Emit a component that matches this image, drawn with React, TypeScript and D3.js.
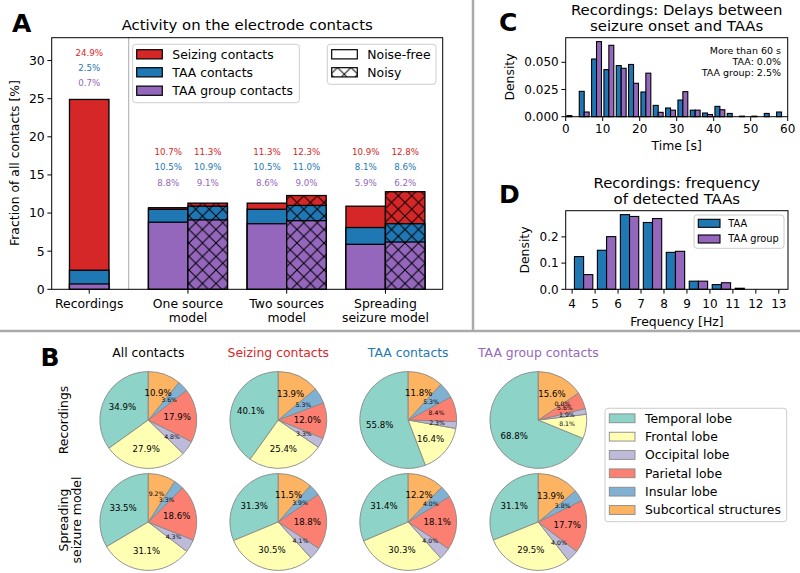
import React from 'react';
import * as d3 from 'd3';

const FONT = '"DejaVu Sans", sans-serif';
const RED = '#d62728';
const BLUE = '#1f77b4';
const PURPLE = '#9467bd';

// ---------- Panel A data ----------
const groupLabels = ['Recordings', 'One source\nmodel', 'Two sources\nmodel', 'Spreading\nseizure model'];
const seizingNoiseFree = [24.9, 10.7, 11.3, 10.9];
const taaNoiseFree = [2.5, 10.5, 10.5, 8.1];
const taaGroupNoiseFree = [0.7, 8.8, 8.6, 5.9];
const seizingNoisy = [NaN, 11.3, 12.3, 12.8];
const taaNoisy = [NaN, 10.9, 11.0, 8.6];
const taaGroupNoisy = [NaN, 9.1, 9.0, 6.2];
const yTicksA = [0, 5, 10, 15, 20, 25, 30];
const seriesNamesA = ['Seizing contacts', 'TAA contacts', 'TAA group contacts'];

// ---------- Panel C data (18 bins, 0-60 s) ----------
const delayTAA = [0.001, 0.0233, 0.053, 0.0433, 0.047, 0.048, 0.0227, 0.0104, 0.008, 0.0153, 0.006, 0.0034, 0.0095, 0.003, 0.0005, 0.0005, 0.003, 0.0043];
const delayTAAGroup = [0, 0.0043, 0.069, 0.0656, 0.0445, 0.0307, 0.040, 0.004, 0.006, 0.023, 0.006, 0.002, 0.0064, 0, 0, 0, 0, 0];
const delayTicks = [0, 10, 20, 30, 40, 50, 60];
const densityTicksC = [0, 0.025, 0.05];
const annotationC = ['More than 60 s', 'TAA: 0.0%', 'TAA group: 2.5%'];

// ---------- Panel D data (bins 4-13 Hz) ----------
const freqEdgesStart = [4, 5, 6, 7, 8, 9, 10, 11, 12];
const freqTAA = [0.125, 0.149, 0.285, 0.255, 0.141, 0.031, 0.018, 0.004, 0];
const freqTAAGroup = [0.056, 0.201, 0.278, 0.270, 0.145, 0.031, 0.025, 0, 0];
const freqTicks = [4, 5, 6, 7, 8, 9, 10, 11, 12, 13];
const densityTicksD = [0, 0.1, 0.2];

// ---------- Panel B data ----------
const regions = ['Temporal lobe', 'Frontal lobe', 'Occipital lobe', 'Parietal lobe', 'Insular lobe', 'Subcortical structures'];
const regionColors = ['#8dd3c7', '#ffffb3', '#bebada', '#fb8072', '#80b1d3', '#fdb462'];
const pieColumns = ['All contacts', 'Seizing contacts', 'TAA contacts', 'TAA group contacts'];
const pieColumnColors = ['#000000', RED, BLUE, PURPLE];
const pieRows = ['Recordings', 'Spreading\nseizure model'];
const recAll = [34.9, 27.9, 4.8, 17.9, 3.6, 10.9];
const recSeizing = [40.1, 25.4, 3.3, 12.0, 5.3, 13.9];
const recTAA = [55.8, 16.4, 2.3, 8.4, 5.3, 11.8];
const recTAAGroup = [68.8, 8.1, 1.9, 5.6, 0.0, 15.6];
const modelAll = [33.5, 31.1, 4.3, 18.6, 3.3, 9.2];
const modelSeizing = [31.3, 30.5, 4.1, 18.8, 3.9, 11.5];
const modelTAA = [31.4, 30.3, 4.0, 18.1, 4.0, 12.2];
const modelTAAGroup = [31.1, 29.5, 4.0, 17.7, 3.8, 13.9];

function Legend({ x, y, w, h }: { x: number; y: number; w: number; h: number }) {
  return <rect x={x} y={y} width={w} height={h} rx={3} fill="#fff" fillOpacity={0.85} stroke="#cccccc" strokeWidth={1} />;
}

function PanelA() {
  const x = d3.scaleLinear().domain([-0.38, 3.58]).range([51.7, 442.7]);
  const y = d3.scaleLinear().domain([0, 33]).range([289.3, 37.7]);
  const bw = 0.4;
  const bars: { c: number; vals: number[]; hatch: boolean; labelY: number[] }[] = [];
  groupLabels.forEach((_, i) => {
    if (i === 0) {
      bars.push({ c: 0, vals: [seizingNoiseFree[0], taaNoiseFree[0], taaGroupNoiseFree[0]], hatch: false, labelY: [31, 29, 27] });
    } else {
      bars.push({ c: i - 0.2, vals: [seizingNoiseFree[i], taaNoiseFree[i], taaGroupNoiseFree[i]], hatch: false, labelY: [18, 16, 14] });
      bars.push({ c: i + 0.2, vals: [seizingNoisy[i], taaNoisy[i], taaGroupNoisy[i]], hatch: true, labelY: [18, 16, 14] });
    }
  });
  const colors = [RED, BLUE, PURPLE];
  const [x0, x1] = x.range();
  const [yb, yt] = y.range();
  return (
    <g>
      {bars.map((b, bi) => (
        <g key={bi}>
          {b.vals.map((v, k) => (
            <g key={k}>
              <rect x={x(b.c - bw / 2)} y={y(v)} width={x(b.c + bw / 2) - x(b.c - bw / 2)} height={y(0) - y(v)} fill={colors[k]} />
              {b.hatch && <rect x={x(b.c - bw / 2)} y={y(v)} width={x(b.c + bw / 2) - x(b.c - bw / 2)} height={y(0) - y(v)} fill="url(#hatchX)" />}
              <rect x={x(b.c - bw / 2)} y={y(v)} width={x(b.c + bw / 2) - x(b.c - bw / 2)} height={y(0) - y(v)} fill="none" stroke="#000" strokeWidth={1.3} />
            </g>
          ))}
          {b.vals.map((v, k) => (
            <text key={'l' + k} x={x(b.c)} y={y(b.labelY[k])} dy="0.35em" textAnchor="middle" fontSize={8.7} fill={colors[k]}>{v.toFixed(1)}%</text>
          ))}
        </g>
      ))}
      <line x1={x(0.4)} x2={x(0.4)} y1={yt} y2={yb} stroke="#aaaaaa" strokeWidth={1} />
      <rect x={x0} y={yt} width={x1 - x0} height={yb - yt} fill="none" stroke="#000" strokeWidth={1} />
      {yTicksA.map(t => (
        <g key={t}>
          <line x1={x0 - 4.3} x2={x0} y1={y(t)} y2={y(t)} stroke="#000" />
          <text x={x0 - 7} y={y(t)} dy="0.35em" textAnchor="end" fontSize={12.4}>{t}</text>
        </g>
      ))}
      {groupLabels.map((g, i) => (
        <g key={g}>
          <line x1={x(i)} x2={x(i)} y1={yb} y2={yb + 4.3} stroke="#000" />
          {g.split('\n').map((line, li) => (
            <text key={li} x={x(i)} y={304 + li * 13.8} dy="0.35em" textAnchor="middle" fontSize={12.4}>{line}</text>
          ))}
        </g>
      ))}
      <text transform={`translate(15,163) rotate(-90)`} textAnchor="middle" dy="0.35em" fontSize={12.4}>Fraction of all contacts [%]</text>
      <text x={(x0 + x1) / 2} y={25} dy="0.35em" textAnchor="middle" fontSize={14.9}>Activity on the electrode contacts</text>
      {/* legend 1 */}
      <Legend x={132.7} y={44.3} w={166.6} h={58.4} />
      {seriesNamesA.map((n, k) => (
        <g key={n}>
          <rect x={136.7} y={[54.3, 72.3, 90.7][k] - 4.6} width={25.6} height={9.2} fill={colors[k]} stroke="#000" strokeWidth={1.2} />
          <text x={172.3} y={[54.3, 72.3, 90.7][k]} dy="0.35em" fontSize={12.4}>{n}</text>
        </g>
      ))}
      {/* legend 2 */}
      <Legend x={327.3} y={44.3} w={108.7} h={40} />
      <rect x={331.7} y={54.3 - 4.6} width={25.6} height={9.2} fill="#fff" stroke="#000" strokeWidth={1.2} />
      <text x={367.3} y={54.3} dy="0.35em" fontSize={12.4}>Noise-free</text>
      <rect x={331.7} y={72.3 - 4.6} width={25.6} height={9.2} fill="#fff" />
      <rect x={331.7} y={72.3 - 4.6} width={25.6} height={9.2} fill="url(#hatchX)" stroke="#000" strokeWidth={1.2} />
      <text x={367.3} y={72.3} dy="0.35em" fontSize={12.4}>Noisy</text>
    </g>
  );
}

function PanelC() {
  const x = d3.scaleLinear().domain([0, 60]).range([565.7, 787.7]);
  const y = d3.scaleLinear().domain([0, 0.0726]).range([116.7, 37.7]);
  const w = 60 / 18;
  const [x0, x1] = x.range();
  const [yb, yt] = y.range();
  return (
    <g>
      {delayTAA.map((v, i) => {
        const e = i * w;
        const g = delayTAAGroup[i];
        return (
          <g key={i}>
            {v > 0 && <rect x={x(e + 0.1 * w)} y={y(v)} width={x(e + 0.5 * w) - x(e + 0.1 * w)} height={y(0) - y(v)} fill={BLUE} stroke="#000" strokeWidth={1.1} />}
            {g > 0 && <rect x={x(e + 0.5 * w)} y={y(g)} width={x(e + 0.9 * w) - x(e + 0.5 * w)} height={y(0) - y(g)} fill={PURPLE} stroke="#000" strokeWidth={1.1} />}
          </g>
        );
      })}
      <rect x={x0} y={yt} width={x1 - x0} height={yb - yt} fill="none" stroke="#000" strokeWidth={1} />
      {densityTicksC.map(t => (
        <g key={t}>
          <line x1={x0 - 4.3} x2={x0} y1={y(t)} y2={y(t)} stroke="#000" />
          <text x={x0 - 7} y={y(t)} dy="0.35em" textAnchor="end" fontSize={12}>{t.toFixed(3)}</text>
        </g>
      ))}
      {delayTicks.map(t => (
        <g key={t}>
          <line x1={x(t)} x2={x(t)} y1={yb} y2={yb + 4.3} stroke="#000" />
          <text x={x(t)} y={128.5} dy="0.35em" textAnchor="middle" fontSize={12}>{t}</text>
        </g>
      ))}
      {annotationC.map((a, i) => (
        <text key={i} x={781} y={[51, 62, 72.7][i]} dy="0.35em" textAnchor="end" fontSize={9.5}>{a}</text>
      ))}
      <text x={(x0 + x1) / 2} y={9.5} dy="0.35em" textAnchor="middle" fontSize={14.9}>Recordings: Delays between</text>
      <text x={(x0 + x1) / 2} y={26} dy="0.35em" textAnchor="middle" fontSize={14.9}>seizure onset and TAAs</text>
      <text transform={`translate(509.3,77) rotate(-90)`} textAnchor="middle" dy="0.35em" fontSize={12.4}>Density</text>
      <text x={(x0 + x1) / 2} y={145.7} dy="0.35em" textAnchor="middle" fontSize={12.4}>Time [s]</text>
    </g>
  );
}

function PanelD() {
  const x = d3.scaleLinear().domain([3.72, 13.4]).range([565.7, 788]);
  const y = d3.scaleLinear().domain([0, 0.3]).range([289.3, 210.7]);
  const [x0, x1] = x.range();
  const [yb, yt] = y.range();
  return (
    <g>
      {freqEdgesStart.map((e, i) => {
        const v = freqTAA[i];
        const g = freqTAAGroup[i];
        return (
          <g key={i}>
            {v > 0 && <rect x={x(e + 0.1)} y={y(v)} width={x(e + 0.5) - x(e + 0.1)} height={y(0) - y(v)} fill={BLUE} stroke="#000" strokeWidth={1.1} />}
            {g > 0 && <rect x={x(e + 0.5)} y={y(g)} width={x(e + 0.9) - x(e + 0.5)} height={y(0) - y(g)} fill={PURPLE} stroke="#000" strokeWidth={1.1} />}
          </g>
        );
      })}
      <rect x={x0} y={yt} width={x1 - x0} height={yb - yt} fill="none" stroke="#000" strokeWidth={1} />
      {densityTicksD.map(t => (
        <g key={t}>
          <line x1={x0 - 4.3} x2={x0} y1={y(t)} y2={y(t)} stroke="#000" />
          <text x={x0 - 7} y={y(t)} dy="0.35em" textAnchor="end" fontSize={12}>{t.toFixed(1)}</text>
        </g>
      ))}
      {freqTicks.map(t => (
        <g key={t}>
          <line x1={x(t)} x2={x(t)} y1={yb} y2={yb + 4.3} stroke="#000" />
          <text x={x(t)} y={304} dy="0.35em" textAnchor="middle" fontSize={12}>{t}</text>
        </g>
      ))}
      <Legend x={694} y={215} w={90} h={33.3} />
      <rect x={698.3} y={223.3 - 4} width={21.7} height={8} fill={BLUE} stroke="#000" strokeWidth={1.1} />
      <text x={728.3} y={223.3} dy="0.35em" fontSize={9.8}>TAA</text>
      <rect x={698.3} y={239 - 4} width={21.7} height={8} fill={PURPLE} stroke="#000" strokeWidth={1.1} />
      <text x={728.3} y={239} dy="0.35em" fontSize={9.8}>TAA group</text>
      <text x={(x0 + x1) / 2} y={182.7} dy="0.35em" textAnchor="middle" fontSize={14.9}>Recordings: frequency</text>
      <text x={(x0 + x1) / 2} y={198.5} dy="0.35em" textAnchor="middle" fontSize={14.9}>of detected TAAs</text>
      <text transform={`translate(525,250) rotate(-90)`} textAnchor="middle" dy="0.35em" fontSize={12.4}>Density</text>
      <text x={(x0 + x1) / 2} y={321.7} dy="0.35em" textAnchor="middle" fontSize={12.4}>Frequency [Hz]</text>
    </g>
  );
}

function Pie({ cx, cy, r, values }: { cx: number; cy: number; r: number; values: number[] }) {
  const pie = d3.pie<number>().sort(null).startAngle(0).endAngle(-2 * Math.PI);
  const arcs = pie(values);
  const arc = d3.arc<d3.PieArcDatum<number>>().innerRadius(0).outerRadius(r);
  return (
    <g transform={`translate(${cx},${cy})`}>
      {arcs.map((a, i) => (
        a.value > 0 ? <path key={i} d={arc(a) || ''} fill={regionColors[i]} stroke="#888" strokeWidth={0.9} /> : null
      ))}
      {arcs.map((a, i) => {
        const m = (a.startAngle + a.endAngle) / 2;
        const rr = r * 0.6;
        const small = a.value < 10;
        return (
          <text key={'t' + i} x={rr * Math.sin(m)} y={-rr * Math.cos(m)} dy="0.35em" textAnchor="middle" fontSize={small ? 6.2 : 8.6}>{a.value.toFixed(1)}%</text>
        );
      })}
    </g>
  );
}

function PanelB() {
  const colX = [148.3, 278.3, 408.2, 538.3];
  const rowY = [420, 522];
  const data = [
    [recAll, recSeizing, recTAA, recTAAGroup],
    [modelAll, modelSeizing, modelTAA, modelTAAGroup],
  ];
  return (
    <g>
      {pieColumns.map((c, i) => (
        <text key={c} x={colX[i]} y={352.7} dy="0.35em" textAnchor="middle" fontSize={12.4} fill={pieColumnColors[i]}>{c}</text>
      ))}
      {data.map((row, ri) => row.map((vals, ci) => (
        <Pie key={ri + '-' + ci} cx={colX[ci]} cy={rowY[ri]} r={48.4} values={vals} />
      )))}
      <text transform={`translate(63.3,420) rotate(-90)`} textAnchor="middle" dy="0.35em" fontSize={12.4}>{pieRows[0]}</text>
      {pieRows[1].split('\n').map((l, li) => (
        <text key={li} transform={`translate(${63.3 + li * 13.4},520) rotate(-90)`} textAnchor="middle" dy="0.35em" fontSize={12.4}>{l}</text>
      ))}
      <Legend x={605} y={408.3} w={181.7} h={113.4} />
      {regions.map((rg, i) => {
        const yy = 418.3 + i * 18.34;
        return (
          <g key={rg}>
            <rect x={609.3} y={yy - 4.4} width={25.7} height={8.8} fill={regionColors[i]} stroke="#888" strokeWidth={0.9} />
            <text x={645} y={yy} dy="0.35em" fontSize={12.4}>{rg}</text>
          </g>
        );
      })}
    </g>
  );
}

export default function App() {
  React.useEffect(() => { document.body.style.margin = '0'; }, []);
  return (
    <svg width={800} height={573} style={{ position: 'absolute', left: 0, top: 0, fontFamily: FONT, background: '#fff' }}>
      <defs>
        <pattern id="hatchX" patternUnits="userSpaceOnUse" width={13.5} height={13.5}>
          <path d="M-1,-1 L14.5,14.5 M14.5,-1 L-1,14.5" stroke="#000" strokeWidth={1} />
        </pattern>
      </defs>
      <rect x={0} y={0} width={800} height={573} fill="#fff" />
      <line x1={473} x2={473} y1={0} y2={331} stroke="#aaaaaa" strokeWidth={2.5} />
      <line x1={0} x2={800} y1={331} y2={331} stroke="#aaaaaa" strokeWidth={2.5} />
      <PanelA />
      <PanelC />
      <PanelD />
      <PanelB />
      <text x={12} y={32} fontSize={25} fontWeight="bold">A</text>
      <text x={40.5} y={366} fontSize={25} fontWeight="bold">B</text>
      <text x={499} y={31} fontSize={25} fontWeight="bold">C</text>
      <text x={499} y={203} fontSize={25} fontWeight="bold">D</text>
    </svg>
  );
}
